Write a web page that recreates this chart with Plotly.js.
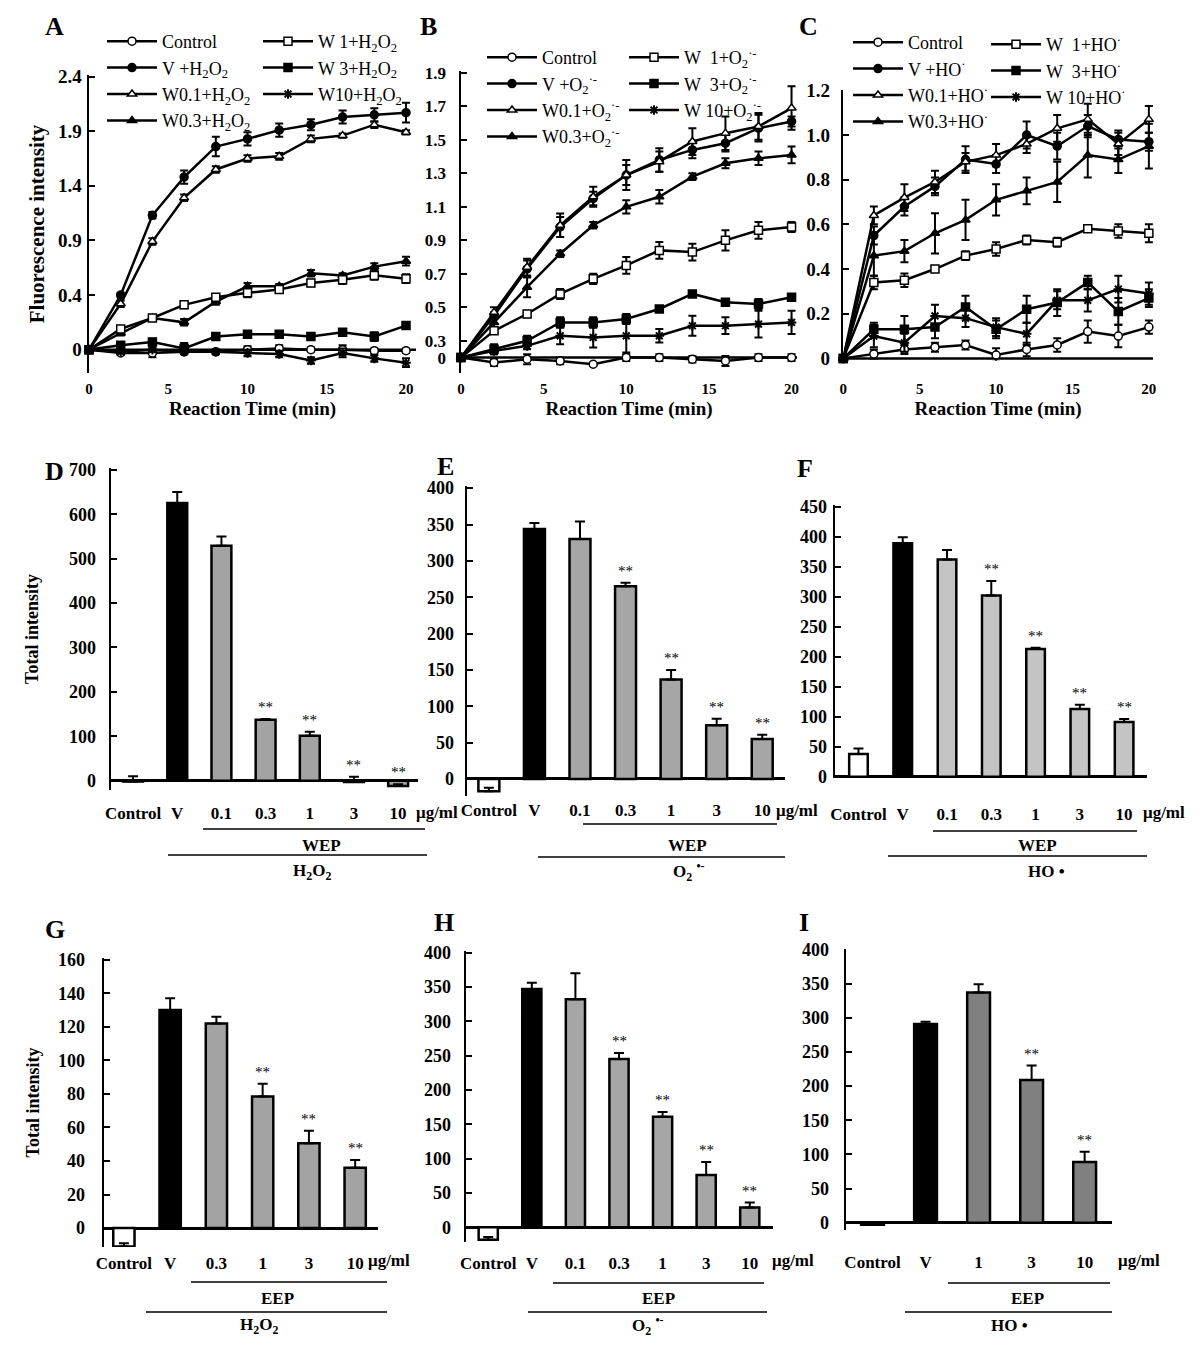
<!DOCTYPE html>
<html><head><meta charset="utf-8">
<script src="https://cdn.plot.ly/plotly-3.0.1.min.js"></script>
<style>body{margin:0;background:#fff}#chart{width:1200px;height:1347px}</style>
</head><body><div id="chart"></div>
<script>
// ================= DATA =================
const time = [0,2,4,6,8,10,12,14,16,18,20];

// Panel A (H2O2) fluorescence kinetics
const aControl = [-0.10,-0.13,-0.13,-0.12,-0.12,-0.10,-0.09,-0.10,-0.10,-0.11,-0.11];
const aV       = [-0.10,0.40,1.13,1.48,1.76,1.83,1.91,1.96,2.03,2.05,2.07];
const aW01     = [-0.10,0.32,0.89,1.29,1.55,1.65,1.67,1.83,1.86,1.96,1.89];
const aW03     = [-0.10,0.05,0.19,0.15,0.34,0.48,0.48,0.60,0.58,0.66,0.71];
const aW1      = [-0.10,0.09,0.19,0.31,0.38,0.42,0.45,0.51,0.54,0.58,0.55];
const aW3      = [-0.10,-0.06,-0.03,-0.09,0.02,0.04,0.04,0.02,0.06,0.02,0.12];
const aW10     = [-0.10,-0.12,-0.10,-0.12,-0.12,-0.13,-0.14,-0.20,-0.13,-0.18,-0.22];
const aControlErr = [0,0.02,0.04,0.02,0.02,0.03,0.03,0.02,0.04,0.02,0.02];
const aVErr    = [0,0.02,0.03,0.06,0.09,0.06,0.06,0.05,0.06,0.06,0.09];
const aW01Err  = [0,0.03,0.03,0.03,0.03,0.03,0.03,0.03,0.02,0.03,0.02];
const aW03Err  = [0,0.02,0.02,0.03,0.03,0.03,0.02,0.03,0.02,0.03,0.04];
const aW1Err   = [0,0.02,0.02,0.03,0.03,0.04,0.02,0.03,0.04,0.04,0.04];
const aW3Err   = [0,0.02,0.03,0.05,0.02,0.03,0.03,0.02,0.02,0.04,0.02];
const aW10Err  = [0,0.01,0.02,0.02,0.02,0.03,0.03,0.03,0.04,0.03,0.04];
const aNames = ['Control','V +H<sub>2</sub>O<sub>2</sub>','W0.1+H<sub>2</sub>O<sub>2</sub>','W0.3+H<sub>2</sub>O<sub>2</sub>',
                'W 1+H<sub>2</sub>O<sub>2</sub>','W 3+H<sub>2</sub>O<sub>2</sub>','W10+H<sub>2</sub>O<sub>2</sub>'];
const aTickVals = [-0.1,0.4,0.9,1.4,1.9,2.4];
const aTickText = ['0','0.4','0.9','1.4','1.9','2.4'];

// Panel B (O2·-)
const bControl = [0.20,0.17,0.19,0.18,0.16,0.20,0.20,0.19,0.18,0.20,0.20];
const bV       = [0.20,0.45,0.73,0.98,1.15,1.29,1.38,1.44,1.48,1.57,1.61];
const bW01     = [0.20,0.47,0.74,0.99,1.16,1.29,1.37,1.49,1.54,1.58,1.69];
const bW03     = [0.20,0.41,0.62,0.82,0.99,1.10,1.16,1.28,1.36,1.39,1.41];
const bW1      = [0.20,0.36,0.46,0.58,0.67,0.75,0.84,0.83,0.90,0.96,0.98];
const bW3      = [0.20,0.25,0.30,0.41,0.41,0.43,0.49,0.58,0.53,0.52,0.56];
const bW10     = [0.20,0.24,0.27,0.33,0.32,0.33,0.33,0.39,0.39,0.40,0.41];
const bControlErr = [0,0.02,0.03,0.02,0.01,0.02,0.02,0.02,0.03,0.02,0.02];
const bVErr    = [0,0.02,0.05,0.06,0.04,0.06,0.07,0.05,0.05,0.08,0.03];
const bW01Err  = [0,0.03,0.05,0.07,0.06,0.09,0.06,0.08,0.10,0.08,0.13];
const bW03Err  = [0,0.03,0.06,0.02,0.02,0.04,0.04,0.02,0.03,0.04,0.05];
const bW1Err   = [0,0.02,0.02,0.03,0.03,0.05,0.05,0.05,0.06,0.05,0.03];
const bW3Err   = [0,0.03,0.03,0.03,0.03,0.03,0.01,0.01,0.02,0.03,0.02];
const bW10Err  = [0,0.02,0.02,0.05,0.06,0.10,0.04,0.06,0.05,0.08,0.07];
const bNames = ['Control','V +O<sub>2</sub><sup>·-</sup>','W0.1+O<sub>2</sub><sup>·-</sup>','W0.3+O<sub>2</sub><sup>·-</sup>',
                'W  1+O<sub>2</sub><sup>·-</sup>','W  3+O<sub>2</sub><sup>·-</sup>','W 10+O<sub>2</sub><sup>·-</sup>'];
const bTickVals = [0.2,0.3,0.5,0.7,0.9,1.1,1.3,1.5,1.7,1.9];
const bTickText = ['0','0.3','0.5','0.7','0.9','1.1','1.3','1.5','1.7','1.9'];

// Panel C (HO·)
const cControl = [0,0.02,0.04,0.05,0.06,0.015,0.04,0.06,0.12,0.10,0.14];
const cV       = [0,0.55,0.68,0.77,0.89,0.87,1.00,0.95,1.04,0.98,0.97];
const cW01     = [0,0.64,0.72,0.79,0.88,0.91,0.96,1.03,1.07,0.96,1.07];
const cW03     = [0,0.46,0.48,0.56,0.62,0.71,0.75,0.79,0.91,0.89,0.95];
const cW1      = [0,0.34,0.35,0.40,0.46,0.49,0.53,0.52,0.58,0.57,0.56];
const cW3      = [0,0.13,0.13,0.14,0.23,0.13,0.22,0.25,0.34,0.21,0.27];
const cW10     = [0,0.10,0.07,0.19,0.18,0.14,0.11,0.26,0.26,0.31,0.29];
const cControlErr = [0,0.02,0.02,0.02,0.02,0.03,0.03,0.03,0.05,0.05,0.03];
const cVErr    = [0,0.04,0.04,0.04,0.06,0.04,0.06,0.06,0.05,0.04,0.04];
const cW01Err  = [0,0.04,0.06,0.05,0.04,0.05,0.04,0.06,0.07,0.05,0.06];
const cW03Err  = [0,0.09,0.05,0.09,0.09,0.07,0.06,0.09,0.10,0.06,0.10];
const cW1Err   = [0,0.03,0.03,0.01,0.02,0.03,0.02,0.02,0.01,0.03,0.04];
const cW3Err   = [0,0.03,0.06,0.05,0.05,0.04,0.06,0.06,0.03,0.06,0.04];
const cW10Err  = [0,0.05,0.04,0.05,0.04,0.04,0.05,0.04,0.05,0.06,0.05];
const cNames = ['Control','V +HO<sup>·</sup>','W0.1+HO<sup>·</sup>','W0.3+HO<sup>·</sup>',
                'W  1+HO<sup>·</sup>','W  3+HO<sup>·</sup>','W 10+HO<sup>·</sup>'];
const cTickVals = [0,0.2,0.4,0.6,0.8,1.0,1.2];
const cTickText = ['0','0.2','0.4','0.6','0.8','1.0','1.2'];

// Bar panels
const dCats = ['Control','V','0.1','0.3','1','3','10'];
const dVals = [-2,625,529,137,101,-3,-12];
const dErr  = [12,25,21,2,9,12,4];
const dSig  = ['','','','**','**','**','**'];

const eCats = ['Control','V','0.1','0.3','1','3','10'];
const eVals = [-17,344,330,265,137,74,55];
const eErr  = [5,8,24,5,13,9,6];
const eSig  = ['','','','**','**','**','**'];

const fCats = ['Control','V','0.1','0.3','1','3','10'];
const fVals = [38,389,362,302,213,113,91];
const fErr  = [9,10,16,24,2,7,5];
const fSig  = ['','','','**','**','**','**'];

const gCats = ['Control','V','0.3','1','3','10'];
const gVals = [-11,130,122,78.5,50.5,36];
const gErr  = [2,7,4,7.5,7.5,4.5];
const gSig  = ['','','','**','**','**'];

const hCats = ['Control','V','0.1','0.3','1','3','10'];
const hVals = [-18,347,332,245,161,76,29];
const hErr  = [4,9,38,9,7,19,7];
const hSig  = ['','','','**','**','**','**'];

const iCats = ['Control','V','1','3','10'];
const iVals = [-3,291,337,209,89];
const iErr  = [2,3,12,21,15];
const iSig  = ['','','','**','**'];

// ================= BUILD =================
const SERIF = 'Liberation Serif, Times New Roman, serif';
const W = 1200, H = 1347;
const PX = v => v / W;
const PY = v => 1 - v / H;

const symbols = ['circle','circle','triangle-up','triangle-up','square','square','asterisk-open'];
const fills   = ['white','black','white','black','white','black','black'];

const traces = [];
const annotations = [];
const shapes = [];

function addLinePanel(xa, ya, series, errs, names, legA, legB) {
  series.forEach((y, i) => {
    traces.push({
      type: 'scatter', mode: 'lines+markers', x: time, y: y,
      xaxis: xa, yaxis: ya, name: names[i], legend: i < 4 ? legA : legB,
      line: {color: 'black', width: 2.5},
      marker: {symbol: symbols[i], size: 8, color: fills[i], line: {color: 'black', width: i === 6 ? 2 : 1.5}},
      error_y: {type: 'data', array: errs[i], visible: true, color: 'black', thickness: 2, width: 4},
      cliponaxis: false
    });
  });
}

addLinePanel('x', 'y', [aControl,aV,aW01,aW03,aW1,aW3,aW10],
  [aControlErr,aVErr,aW01Err,aW03Err,aW1Err,aW3Err,aW10Err], aNames, 'legend', 'legend2');
addLinePanel('x2', 'y2', [bControl,bV,bW01,bW03,bW1,bW3,bW10],
  [bControlErr,bVErr,bW01Err,bW03Err,bW1Err,bW3Err,bW10Err], bNames, 'legend3', 'legend4');
addLinePanel('x3', 'y3', [cControl,cV,cW01,cW03,cW1,cW3,cW10],
  [cControlErr,cVErr,cW01Err,cW03Err,cW1Err,cW3Err,cW10Err], cNames, 'legend5', 'legend6');

function addBarPanel(n, cats, vals, errs, sig, gray, width) {
  const xa = 'x' + n, ya = 'y' + n;
  const colors = cats.map((c, i) => i === 0 ? 'white' : (i === 1 ? 'black' : gray));
  traces.push({
    type: 'bar', x: cats, y: vals, xaxis: xa, yaxis: ya, width: width, showlegend: false,
    marker: {color: colors, line: {color: 'black', width: 2.5}},
    error_y: {type: 'data', symmetric: false, array: errs, arrayminus: cats.map(() => 0),
              color: 'black', thickness: 2, width: 5}
  });
  cats.forEach((c, i) => {
    if (sig[i]) annotations.push({
      xref: xa, yref: ya, x: i, y: vals[i] + errs[i], text: sig[i], showarrow: false,
      yanchor: 'bottom', yshift: 2, font: {family: SERIF, size: 15, color: 'black'}
    });
  });
}
addBarPanel(4, dCats, dVals, dErr, dSig, '#a3a3a3', 0.45);
addBarPanel(5, eCats, eVals, eErr, eSig, '#a6a6a6', 0.46);
addBarPanel(6, fCats, fVals, fErr, fSig, '#c4c4c4', 0.42);
addBarPanel(7, gCats, gVals, gErr, gSig, '#a3a3a3', 0.46);
addBarPanel(8, hCats, hVals, hErr, hSig, '#a6a6a6', 0.44);
addBarPanel(9, iCats, iVals, iErr, iSig, '#808080', 0.43);

// ---- axes ----
const tickFontY = {family: SERIF, size: 19, color: 'black', weight: 'bold'};
const tickFontX = {family: SERIF, size: 15, color: 'black', weight: 'bold'};
const layout = {
  width: W, height: H, margin: {l: 0, r: 0, t: 0, b: 0},
  paper_bgcolor: 'white', plot_bgcolor: 'white', showlegend: true,
  font: {family: SERIF, color: 'black'}
};

function lineX(dom, rng, standoff) {
  return {domain: dom, range: rng, showline: false, showgrid: false, zeroline: false,
    tickvals: [0,5,10,15,20], ticks: '', ticklabelstandoff: standoff, tickfont: tickFontX,
    title: {text: 'Reaction Time (min)', font: {family: SERIF, size: 19, weight: 'bold'}, standoff: 5}};
}
function lineY(dom, rng, tv, tt, standoff, title, fsize) {
  const o = {domain: dom, range: rng, showline: true, linewidth: 2.5, linecolor: 'black',
    showgrid: false, zeroline: false, tickvals: tv, ticktext: tt, ticks: 'inside', ticklen: 6,
    tickwidth: 2, tickcolor: 'black', ticklabelstandoff: standoff,
    tickfont: Object.assign({}, tickFontY, fsize ? {size: fsize} : {})};
  if (title) o.title = {text: title, font: {family: SERIF, size: 21, weight: 'bold'}, standoff: 8};
  return o;
}
layout.xaxis  = lineX([PX(89), PX(416)], [0, 20.63], 5);
layout.yaxis  = Object.assign(lineY([PY(373), PY(75)], [-0.314, 2.415], aTickVals, aTickText, 1, 'Fluorescence intensity'), {anchor: 'x'});
layout.xaxis.anchor = 'y';
layout.xaxis2 = Object.assign(lineX([PX(461), PX(797)], [0, 20.33], 5), {anchor: 'y2'});
layout.yaxis2 = Object.assign(lineY([PY(373.3), PY(70.7)], [0.106, 1.913], bTickVals, bTickText, 9, null, 17), {anchor: 'x2'});
layout.xaxis3 = Object.assign(lineX([PX(843.3), PX(1153)], [0, 20.27], 17), {anchor: 'y3'});
layout.yaxis3 = Object.assign(lineY([PY(360.7), PY(90)], [-0.0104, 1.2015], cTickVals, cTickText, 7), {anchor: 'x3'});

// baselines for the line panels (x axis drawn at the "0" level)
[['x', 'y', aTickVals[0]], ['x2', 'y2', bTickVals[0]], ['x3', 'y3', cTickVals[0]]].forEach(([xa, ya, b]) => {
  shapes.push({type: 'line', xref: xa + ' domain', yref: ya, x0: 0, x1: 1, y0: b, y1: b,
    line: {color: 'black', width: 2.5}, layer: 'below'});
});

function barX(dom, rng, standoff, anchor) {
  return {domain: dom, range: rng, type: 'category', showline: false, showgrid: false, zeroline: false,
    ticks: '', ticklabelstandoff: standoff, anchor: anchor,
    tickfont: {family: SERIF, size: 17, color: 'black', weight: 'bold'}};
}
function barY(dom, rng, dtick, standoff, anchor, title) {
  const o = {domain: dom, range: rng, dtick: dtick, tick0: 0, showline: true, linewidth: 2.5, linecolor: 'black',
    showgrid: false, zeroline: true, zerolinewidth: 3, zerolinecolor: 'black', ticks: 'inside', ticklen: 6,
    tickwidth: 2, tickcolor: 'black', ticklabelstandoff: standoff, anchor: anchor,
    tickfont: {family: SERIF, size: 18, color: 'black', weight: 'bold'}};
  if (title) o.title = {text: title.t, font: {family: SERIF, size: 18, weight: 'bold'}, standoff: title.s};
  return o;
}
layout.xaxis4 = barX([PX(111), PX(418)], [-0.5, 6.45], 11, 'y4');
layout.yaxis4 = barY([PY(790), PY(468)], [-21, 704], 100, 9, 'x4', {t: 'Total intensity', s: 26});
layout.xaxis5 = barX([PX(467), PX(785)], [-0.48, 6.5], 2, 'y5');
layout.yaxis5 = barY([PY(796), PY(486)], [-23.4, 403], 50, 7, 'x5');
layout.xaxis6 = barX([PX(835), PX(1146.7)], [-0.53, 6.51], 24, 'y6');
layout.yaxis6 = barY([PY(778), PY(505)], [-2.2, 452.8], 50, 2, 'x6');
layout.xaxis7 = barX([PX(104), PX(378.3)], [-0.43, 5.5], 4, 'y7');
layout.yaxis7 = barY([PY(1247), PY(958)], [-11.3, 161], 20, 13, 'x7', {t: 'Total intensity', s: 14});
layout.xaxis8 = barX([PX(466), PX(773.3)], [-0.51, 6.54], 9, 'y8');
layout.yaxis8 = barY([PY(1242), PY(951)], [-21.4, 402.4], 50, 9, 'x8');
layout.xaxis9 = barX([PX(846), PX(1111.7)], [-0.5, 4.51], 20, 'y9');
layout.yaxis9 = barY([PY(1230), PY(949)], [-10.7, 400.6], 50, 11, 'x9');

// ---- legends ----
function leg(x, y) {
  return {x: PX(x), y: PY(y), xanchor: 'left', yanchor: 'top', bgcolor: 'rgba(0,0,0,0)',
    borderwidth: 0, itemwidth: 50, traceorder: 'normal', tracegroupgap: 0,
    font: {family: SERIF, size: 18, color: 'black'}};
}
layout.legend  = leg(102, 23);
layout.legend2 = leg(258, 23);
layout.legend3 = leg(482, 39);
layout.legend4 = leg(624, 39);
layout.legend5 = leg(848, 24);
layout.legend6 = leg(986, 26);

// ---- panel letters & decorations ----
const letters = [['A',55,27],['B',428,27],['C',808,27],['D',55,471],['E',445,466],['F',805,469],['G',55,930],['H',444,922],['I',804,922]];
letters.forEach(([t, x, y]) => annotations.push({xref: 'paper', yref: 'paper', x: PX(x), y: PY(y), text: t,
  showarrow: false, xanchor: 'center', yanchor: 'middle', font: {family: SERIF, size: 26, weight: 'bold', color: 'black'}}));

function txt(t, x, y, size, anchor) {
  annotations.push({xref: 'paper', yref: 'paper', x: PX(x), y: PY(y), text: t, showarrow: false,
    xanchor: anchor || 'center', yanchor: 'middle', font: {family: SERIF, size: size || 17, weight: 'bold', color: 'black'}});
}
function hline(x0, x1, y) {
  shapes.push({type: 'line', xref: 'paper', yref: 'paper', x0: PX(x0), x1: PX(x1), y0: PY(y), y1: PY(y),
    line: {color: 'black', width: 1.5}});
}
// units
txt('μg/ml', 414, 812, 17, 'left');
txt('μg/ml', 774, 810, 17, 'left');
txt('μg/ml', 1141, 812, 17, 'left');
txt('μg/ml', 366, 1260, 17, 'left');
txt('μg/ml', 770, 1260.7, 17, 'left');
txt('μg/ml', 1116, 1260, 17, 'left');
// brackets
hline(203, 425, 829);   txt('WEP', 321, 845);  hline(168, 427, 855);   txt('H<sub>2</sub>O<sub>2</sub>', 312, 871.7);
hline(583, 777, 824);   txt('WEP', 687, 845);  hline(538, 785, 857);   txt('O<sub>2</sub> <sup>•-</sup>', 689, 871.7);
hline(933, 1137, 831);  txt('WEP', 1037, 845); hline(888, 1147, 856);  txt('HO •', 1046, 871.7);
hline(191, 387, 1282);  txt('EEP', 277, 1298); hline(146, 387, 1312);  txt('H<sub>2</sub>O<sub>2</sub>', 259, 1326);
hline(553, 764, 1283);  txt('EEP', 658, 1298); hline(528, 767, 1312);  txt('O<sub>2</sub> <sup>•-</sup>', 648, 1325);
hline(948, 1110, 1283); txt('EEP', 1027, 1298); hline(905, 1112, 1312); txt('HO •', 1009, 1325);

layout.annotations = annotations;
layout.shapes = shapes;

Plotly.newPlot('chart', traces, layout, {staticPlot: true, displayModeBar: false});
</script>
</body></html>
